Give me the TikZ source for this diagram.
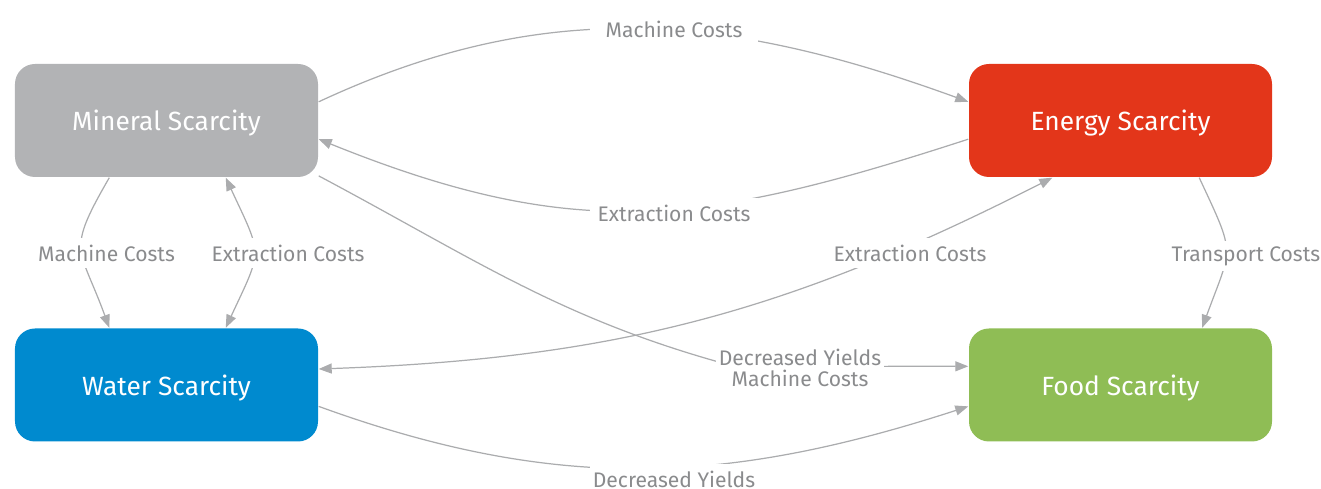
\documentclass[tikz,border=0pt]{standalone}
\usepackage{fontspec}
\setmainfont{Fira Sans}
\usepackage{xcolor}
\usetikzlibrary{arrows.meta}
\definecolor{mineralgray}{HTML}{B2B3B5}
\definecolor{energyred}{HTML}{E3361A}
\definecolor{waterblue}{HTML}{008ACF}
\definecolor{foodgreen}{HTML}{8FBD55}
\definecolor{linkgray}{HTML}{ABACAE}
\definecolor{labelgray}{HTML}{8A8B8D}

\begin{document}
\begin{tikzpicture}[>={Triangle[length=1.3mm,width=1mm]},
        box/.style={rounded corners=2mm, minimum width=3.03cm, minimum height=1.13cm, text=white, text depth=0pt, font=\fontsize{7.5}{9}\selectfont},
        link/.style={draw=linkgray, line width=0.35pt},
        lbl/.style={fill=white, text=labelgray, minimum width=1.68cm, minimum height=0.3cm, inner sep=0pt, align=center, font=\fontsize{6.0}{6}\selectfont}]
        \useasboundingbox (0,0) rectangle (13.21,-4.89);
        \node[box, fill=mineralgray] (mineral) at (1.665,-1.205) {Mineral Scarcity};
        \node[box, fill=energyred] (energy) at (11.205,-1.205) {Energy Scarcity};
        \node[box, fill=waterblue] (water) at (1.665,-3.85) {Water Scarcity};
        \node[box, fill=foodgreen] (food) at (11.205,-3.85) {Food Scarcity};
        \coordinate (dyjoin) at (7.35,-3.665);
        % Verbindungen
        \draw[link,->] (mineral.7) to[out=25,in=160] (energy.173);
        \draw[link,->] (energy.187) to[out=-162,in=-22,looseness=1.1] (mineral.-7);
        \draw[link,->] (mineral.225) to[out=240,in=110,looseness=1.5] (water.135);
        \draw[link,<->] (mineral.-44) to[out=-65,in=65,looseness=1.5] (water.44);
        \draw[link,->] (energy.-36) to[out=-65,in=70,looseness=1.5] (food.35);
        \draw[link,->] (mineral.-20) to[out=-28,in=165] (dyjoin) -- (food.173);
        \draw[link,<->] (water.6) to[out=2,in=-153] (energy.220);
        \draw[link,->] (water.-8) to[out=-20,in=-162] (food.188);
        % Beschriftungen
        \node[lbl] (mctop) at (6.74,-0.29) {Machine Costs};
        \node[lbl] (ecmid) at (6.74,-2.13) {Extraction Costs};
        \node[lbl] (mcleft) at (1.065,-2.53) {Machine Costs};
        \node[lbl] (ecleft) at (2.88,-2.53) {Extraction Costs};
        \node[lbl] (ecright) at (9.10,-2.53) {Extraction Costs};
        \node[lbl] (tc) at (12.46,-2.56) {Transport Costs};
        \node[lbl] (dymc) at (8.0,-3.68) {Decreased Yields\\Machine Costs};
        \node[lbl] (dybottom) at (6.74,-4.79) {Decreased Yields};
\end{tikzpicture}
\end{document}
